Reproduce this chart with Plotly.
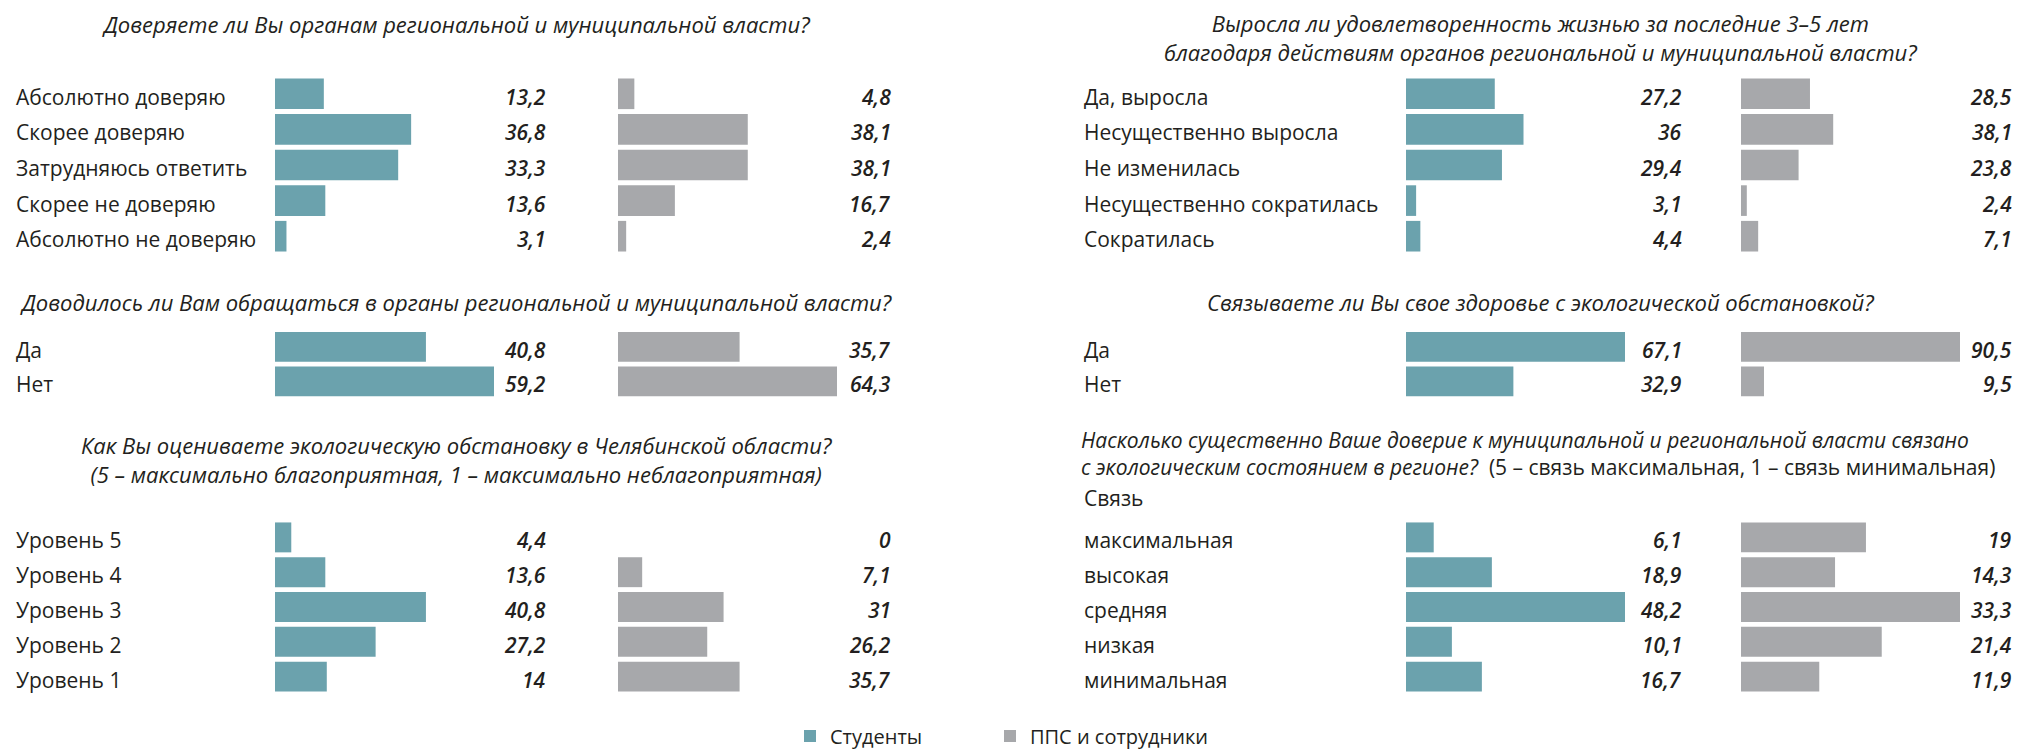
import plotly.graph_objects as go

W, H = 2018, 752
TEAL = "#6BA2AD"
GRAY = "#A7A8AB"
INK = "#231F20"
FONT = "Open Sans"

# ---------------- data ----------------
series_names = ["Студенты", "ППС и сотрудники"]

q1_title = "Доверяете ли Вы органам региональной и муниципальной власти?"
q1_cats = ["Абсолютно доверяю", "Скорее доверяю", "Затрудняюсь ответить",
           "Скорее не доверяю", "Абсолютно не доверяю"]
q1_students = [13.2, 36.8, 33.3, 13.6, 3.1]
q1_staff = [4.8, 38.1, 38.1, 16.7, 2.4]

q2_title = ("Выросла ли удовлетворенность жизнью за последние 3–5 лет<br>"
            "благодаря действиям органов региональной и муниципальной власти?")
q2_cats = ["Да, выросла", "Несущественно выросла", "Не изменилась",
           "Несущественно сократилась", "Сократилась"]
q2_students = [27.2, 36, 29.4, 3.1, 4.4]
q2_staff = [28.5, 38.1, 23.8, 2.4, 7.1]

q3_title = "Доводилось ли Вам обращаться в органы региональной и муниципальной власти?"
q3_cats = ["Да", "Нет"]
q3_students = [40.8, 59.2]
q3_staff = [35.7, 64.3]

q4_title = "Связываете ли Вы свое здоровье с экологической обстановкой?"
q4_cats = ["Да", "Нет"]
q4_students = [67.1, 32.9]
q4_staff = [90.5, 9.5]

q5_title = ("Как Вы оцениваете экологическую обстановку в Челябинской области?<br>"
            "(5 – максимально благоприятная, 1 – максимально неблагоприятная)")
q5_cats = ["Уровень 5", "Уровень 4", "Уровень 3", "Уровень 2", "Уровень 1"]
q5_students = [4.4, 13.6, 40.8, 27.2, 14]
q5_staff = [0, 7.1, 31, 26.2, 35.7]

q6_title_l1 = "Насколько существенно Ваше доверие к муниципальной и региональной власти связано"
q6_title_l2a = "с экологическим состоянием в регионе?"
q6_title_l2b = "(5 – связь максимальная, 1 – связь минимальная)"
q6_header = "Связь"
q6_cats = ["максимальная", "высокая", "средняя", "низкая", "минимальная"]
q6_students = [6.1, 18.9, 48.2, 10.1, 16.7]
q6_staff = [19, 14.3, 33.3, 21.4, 11.9]

# ---------------- geometry ----------------
def fx(px):
    return px / W

def fy(py):
    return 1 - py / H

BAR_W = 219
cols = [
    dict(label_x=14, s_x0=275, p_x0=618, s_val=548, p_val=893, title_cx=456),
    dict(label_x=1082, s_x0=1406, p_x0=1741, s_val=1684, p_val=2014, title_cx=1540),
]

left_smax = max(q1_students + q3_students + q5_students)
left_pmax = max(q1_staff + q3_staff + q5_staff)
rt_smax = max(q2_students + q4_students)
rt_pmax = max(q2_staff + q4_staff)

panels = [
    dict(cats=q1_cats, s=q1_students, p=q1_staff, col=0, y0=76, y1=254, smax=left_smax, pmax=left_pmax),
    dict(cats=q2_cats, s=q2_students, p=q2_staff, col=1, y0=76, y1=254, smax=rt_smax, pmax=rt_pmax),
    dict(cats=q3_cats, s=q3_students, p=q3_staff, col=0, y0=329.6, y1=398.6, smax=left_smax, pmax=left_pmax),
    dict(cats=q4_cats, s=q4_students, p=q4_staff, col=1, y0=329.6, y1=398.6, smax=rt_smax, pmax=rt_pmax),
    dict(cats=q5_cats, s=q5_students, p=q5_staff, col=0, y0=520, y1=694, smax=left_smax, pmax=left_pmax),
    dict(cats=q6_cats, s=q6_students, p=q6_staff, col=1, y0=520, y1=694, smax=max(q6_students), pmax=max(q6_staff)),
]

LABEL_SIZE = 21
VALUE_SIZE = 21
TITLE_SIZE = 22
TEXT_SHIFT = -3

def fmt(v):
    return f"{v:g}".replace(".", ",")

fig = go.Figure()
layout = dict(
    width=W, height=H, margin=dict(l=0, r=0, t=0, b=0, autoexpand=False),
    paper_bgcolor="white", plot_bgcolor="white",
    bargap=0.14, showlegend=True,
    font=dict(family=FONT, size=20, color=INK),
)
annotations = []
hidden = dict(visible=False, showgrid=False, zeroline=False, fixedrange=True)

for i, pn in enumerate(panels):
    c = cols[pn["col"]]
    yk = i + 1
    xs = 2 * i + 1
    xp = 2 * i + 2
    yname = "y" if yk == 1 else f"y{yk}"
    xsname = "x" if xs == 1 else f"x{xs}"
    xpname = f"x{xp}"
    fig.add_trace(go.Bar(
        x=pn["s"], y=pn["cats"], orientation="h", marker=dict(color=TEAL, line=dict(width=0)),
        xaxis=xsname, yaxis=yname, name=series_names[0], legend="legend",
        showlegend=(i == 0), hoverinfo="skip"))
    fig.add_trace(go.Bar(
        x=pn["p"], y=pn["cats"], orientation="h", marker=dict(color=GRAY, line=dict(width=0)),
        xaxis=xpname, yaxis=yname, name=series_names[1], legend="legend2",
        showlegend=(i == 0), hoverinfo="skip"))
    n = len(pn["cats"])
    layout["yaxis" if yk == 1 else f"yaxis{yk}"] = dict(
        hidden, type="category", categoryorder="array", categoryarray=pn["cats"],
        range=[n - 0.5, -0.5], domain=[fy(pn["y1"]), fy(pn["y0"])], anchor=xsname)
    layout["xaxis" if xs == 1 else f"xaxis{xs}"] = dict(
        hidden, range=[0, pn["smax"]], domain=[fx(c["s_x0"]), fx(c["s_x0"] + BAR_W)], anchor=yname)
    layout[f"xaxis{xp}"] = dict(
        hidden, range=[0, pn["pmax"]], domain=[fx(c["p_x0"]), fx(c["p_x0"] + BAR_W)], anchor=yname)
    for cat, sv, pv in zip(pn["cats"], pn["s"], pn["p"]):
        annotations.append(dict(text=cat, xref="paper", x=fx(c["label_x"]), yref=yname, y=cat,
                                xanchor="left", yanchor="middle", showarrow=False, yshift=TEXT_SHIFT,
                                font=dict(size=LABEL_SIZE, color=INK)))
        annotations.append(dict(text=fmt(sv), xref="paper", x=fx(c["s_val"]), yref=yname, y=cat,
                                xanchor="right", yanchor="middle", showarrow=False, yshift=TEXT_SHIFT,
                                font=dict(size=VALUE_SIZE, color=INK, style="italic", weight=600)))
        annotations.append(dict(text=fmt(pv), xref="paper", x=fx(c["p_val"]), yref=yname, y=cat,
                                xanchor="right", yanchor="middle", showarrow=False, yshift=TEXT_SHIFT,
                                font=dict(size=VALUE_SIZE, color=INK, style="italic", weight=600)))

tfont = dict(size=TITLE_SIZE, color=INK, style="italic")
def title(text, cx, cy, anchor="center", font=tfont):
    annotations.append(dict(text=text, xref="paper", yref="paper", x=fx(cx), y=fy(cy),
                            xanchor=anchor, yanchor="middle", showarrow=False, font=font,
                            align="center" if anchor == "center" else "left"))

title(q1_title, cols[0]["title_cx"], 24)
title(q2_title, cols[1]["title_cx"], 38)
title(q3_title, cols[0]["title_cx"], 302)
title(q4_title, cols[1]["title_cx"], 302)
title(q5_title, cols[0]["title_cx"], 459)
title(f"<i>{q6_title_l1}</i><br><i>{q6_title_l2a}</i>  {q6_title_l2b}", 1079, 453,
      anchor="left", font=dict(size=21, color=INK))
title(q6_header, 1082, 498, anchor="left", font=dict(size=LABEL_SIZE, color=INK))

layout["annotations"] = annotations
leg = dict(orientation="h", yanchor="middle", y=fy(736), xanchor="left",
           font=dict(size=20, color=INK), itemwidth=30, bgcolor="rgba(0,0,0,0)")
layout["legend"] = dict(leg, x=fx(790))
layout["legend2"] = dict(leg, x=fx(990))
fig.update_layout(**layout)
fig.write_html("out.html", config={"displayModeBar": False},
               post_script="document.body.style.margin='0';document.body.style.overflow='hidden';")
